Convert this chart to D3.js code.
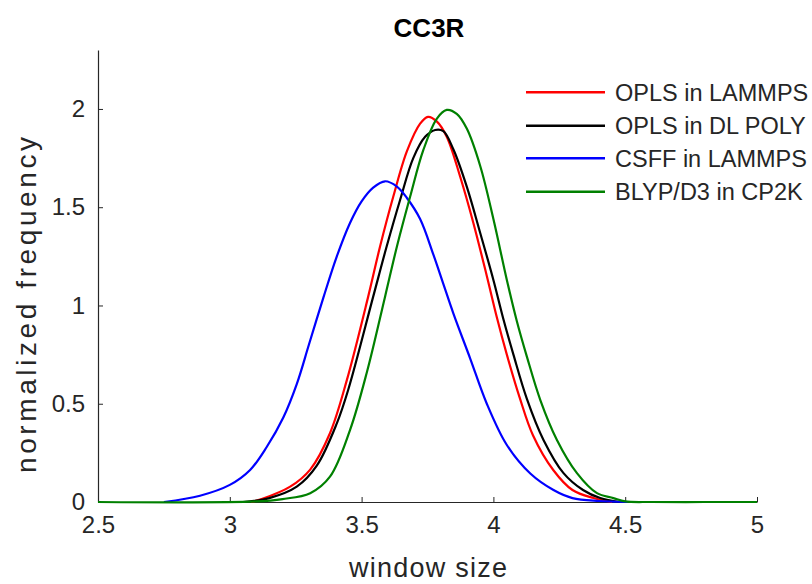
<!DOCTYPE html>
<html>
<head>
<meta charset="utf-8">
<script src="https://cdn.jsdelivr.net/npm/d3@7"></script>
<style>
  html, body { margin: 0; padding: 0; background: #fff; }
  svg { display: block; }
  text { font-family: "Liberation Sans", Arial, Helvetica, sans-serif; }
</style>
</head>
<body>
<svg id="chart" width="812" height="584"></svg>
<script>
// ---- data ----
const chartTitle = "CC3R";
const xLabel = "window size";
const yLabel = "normalized frequency";
const xTickValues = [2.5, 3, 3.5, 4, 4.5, 5];
const xTickLabels = ["2.5", "3", "3.5", "4", "4.5", "5"];
const yTickValues = [0, 0.5, 1, 1.5, 2];
const yTickLabels = ["0", "0.5", "1", "1.5", "2"];
const seriesNames = ["OPLS in LAMMPS", "OPLS in DL POLY", "CSFF in LAMMPS", "BLYP/D3 in CP2K"];
const seriesColors = ["#ff0000", "#000000", "#0000ff", "#008000"];

const oplsLammpsX = [3.08, 3.121, 3.229, 3.305, 3.38, 3.444, 3.525, 3.57, 3.62, 3.672, 3.722, 3.752, 3.785, 3.823, 3.874, 3.924, 3.975, 4.013, 4.051, 4.10, 4.15, 4.227, 4.30, 4.38, 4.45];
const oplsLammpsY = [0, 0.015, 0.078, 0.165, 0.35, 0.62, 1.045, 1.30, 1.553, 1.785, 1.925, 1.96, 1.937, 1.859, 1.655, 1.42, 1.15, 0.94, 0.75, 0.53, 0.34, 0.163, 0.061, 0.02, 0];

const oplsDlpolyX = [3.05, 3.15, 3.254, 3.33, 3.406, 3.449, 3.544, 3.595, 3.646, 3.696, 3.741, 3.779, 3.81, 3.848, 3.899, 3.95, 4.0, 4.038, 4.076, 4.127, 4.19, 4.266, 4.34, 4.405, 4.48];
const oplsDlpolyY = [0, 0.02, 0.078, 0.185, 0.40, 0.57, 1.045, 1.30, 1.537, 1.75, 1.858, 1.893, 1.887, 1.795, 1.605, 1.369, 1.13, 0.93, 0.75, 0.525, 0.316, 0.147, 0.061, 0.02, 0];

const csffLammpsX = [2.75, 2.887, 3.0, 3.077, 3.14, 3.203, 3.254, 3.30, 3.355, 3.406, 3.456, 3.50, 3.544, 3.589, 3.634, 3.672, 3.722, 3.772, 3.81, 3.848, 3.912, 3.975, 4.051, 4.14, 4.228, 4.30, 4.40, 4.51];
const csffLammpsY = [0, 0.032, 0.087, 0.163, 0.28, 0.43, 0.60, 0.80, 1.04, 1.25, 1.42, 1.53, 1.60, 1.632, 1.605, 1.547, 1.44, 1.26, 1.11, 0.96, 0.73, 0.50, 0.29, 0.145, 0.061, 0.02, 0.005, 0];

const blypCp2kX = [2.5, 3.1, 3.2, 3.305, 3.38, 3.456, 3.52, 3.589, 3.634, 3.684, 3.734, 3.785, 3.823, 3.861, 3.899, 3.95, 4.0, 4.051, 4.089, 4.127, 4.178, 4.241, 4.317, 4.393, 4.455, 4.5, 4.6, 4.8, 5.0];
const blypCp2kY = [0, 0.003, 0.015, 0.045, 0.129, 0.366, 0.66, 1.045, 1.30, 1.553, 1.79, 1.95, 1.995, 1.975, 1.90, 1.71, 1.44, 1.13, 0.92, 0.74, 0.519, 0.316, 0.147, 0.045, 0.02, 0.003, 0, 0, 0];

const seriesX = [oplsLammpsX, oplsDlpolyX, csffLammpsX, blypCp2kX];
const seriesY = [oplsLammpsY, oplsDlpolyY, csffLammpsY, blypCp2kY];

// ---- layout ----
const axisColor = "#262626";
const svg = d3.select("#chart");
const x = d3.scaleLinear().domain([2.5, 5]).range([98, 757]);
const y = d3.scaleLinear().domain([0, 2.3]).range([502, 50]);

const xAxis = d3.axisBottom(x).tickValues(xTickValues)
  .tickFormat((d, i) => xTickLabels[i]).tickSizeInner(-5).tickSizeOuter(0).tickPadding(14);
const yAxis = d3.axisLeft(y).tickValues(yTickValues)
  .tickFormat((d, i) => yTickLabels[i]).tickSizeInner(-5).tickSizeOuter(0).tickPadding(13);

const gx = svg.append("g").attr("transform", `translate(0,${y(0)})`).call(xAxis);
const gy = svg.append("g").attr("transform", `translate(${x(2.5)},0)`).call(yAxis);
[gx, gy].forEach(g => {
  g.select(".domain").attr("stroke", axisColor).attr("stroke-width", 1.2);
  g.selectAll(".tick line").attr("stroke", axisColor).attr("stroke-width", 1);
  g.selectAll(".tick text").attr("fill", axisColor).attr("font-size", 24)
    .attr("font-family", "'Liberation Sans', Arial, sans-serif");
});
gx.selectAll(".tick text").attr("dy", "0.71em");

// lines
const line = d3.line().x(d => x(d[0])).y(d => y(Math.max(0, d[1]))).curve(d3.curveCatmullRom.alpha(0.5));
seriesX.forEach((xs, i) => {
  const pts = xs.map((v, j) => [v, seriesY[i][j]]);
  svg.append("path").datum(pts).attr("d", line)
    .attr("fill", "none").attr("stroke", seriesColors[i]).attr("stroke-width", 2.2)
    .attr("stroke-linejoin", "round");
});

// title
svg.append("text").attr("x", 429).attr("y", 37).attr("text-anchor", "middle")
  .attr("font-size", 26).attr("font-weight", "bold").attr("fill", "#000").text(chartTitle);

// axis labels
svg.append("text").attr("x", 428).attr("y", 577).attr("text-anchor", "middle")
  .attr("font-size", 27).attr("textLength", 158).attr("lengthAdjust", "spacing")
  .attr("fill", axisColor).text(xLabel);
svg.append("text").attr("transform", "translate(36,305) rotate(-90)").attr("text-anchor", "middle")
  .attr("font-size", 28).attr("textLength", 336).attr("lengthAdjust", "spacing")
  .attr("fill", axisColor).text(yLabel);

// legend
const legendY = [92.3, 125.7, 158.3, 191.7];
seriesNames.forEach((name, i) => {
  svg.append("line").attr("x1", 526).attr("x2", 605).attr("y1", legendY[i]).attr("y2", legendY[i])
    .attr("stroke", seriesColors[i]).attr("stroke-width", 2.5);
  svg.append("text").attr("x", 615).attr("y", legendY[i]).attr("dy", "0.35em")
    .attr("font-size", 23.5).attr("fill", axisColor).text(name);
});
</script>
</body>
</html>
